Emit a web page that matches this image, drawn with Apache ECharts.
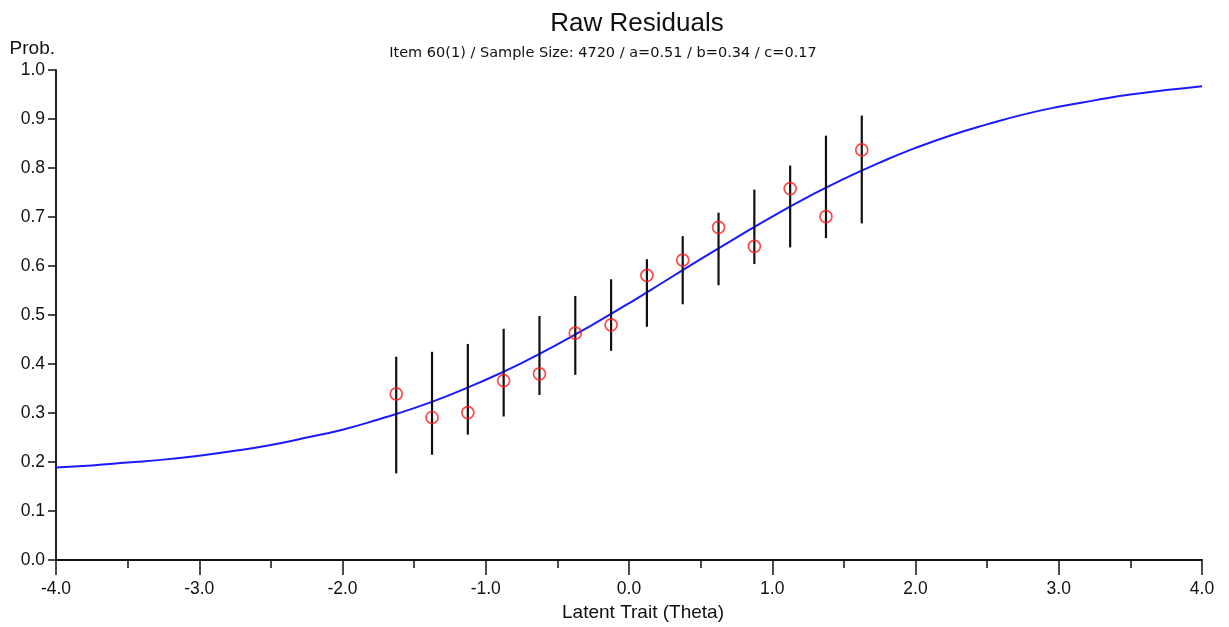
<!DOCTYPE html>
<html>
<head>
<meta charset="utf-8">
<script src="https://cdn.jsdelivr.net/npm/echarts@6/dist/echarts.min.js"></script>
<style>
html,body{margin:0;padding:0;background:#fff;}
#chart{width:1229px;height:627px;}
</style>
</head>
<body>
<div id="chart"></div>
<script>
// Item characteristic curve (theta, probability)
var curveTheta = [-4.0,-3.75,-3.5,-3.25,-3.0,-2.75,-2.5,-2.25,-2.0,-1.75,-1.5,-1.25,-1.0,-0.75,-0.5,-0.25,0.0,0.25,0.5,0.75,1.0,1.25,1.5,1.75,2.0,2.25,2.5,2.75,3.0,3.25,3.5,3.75,4.0];
var curveProb  = [0.189,0.193,0.199,0.205,0.213,0.223,0.235,0.250,0.266,0.287,0.310,0.337,0.368,0.402,0.440,0.481,0.524,0.569,0.614,0.658,0.701,0.741,0.778,0.811,0.841,0.867,0.889,0.909,0.925,0.938,0.950,0.959,0.967];

// Observed proportions with error bars
var groupTheta = [-1.625,-1.375,-1.125,-0.875,-0.625,-0.375,-0.125,0.125,0.375,0.625,0.875,1.125,1.375,1.625];
var observed   = [0.339,0.291,0.301,0.366,0.380,0.463,0.480,0.581,0.612,0.679,0.640,0.758,0.701,0.837];
var errLow     = [0.177,0.215,0.256,0.293,0.337,0.378,0.427,0.476,0.522,0.561,0.604,0.638,0.657,0.687];
var errHigh    = [0.415,0.425,0.441,0.472,0.498,0.539,0.573,0.614,0.661,0.709,0.756,0.805,0.866,0.907];

var titleText = 'Raw Residuals';
var subtitleText = 'Item 60(1) / Sample Size: 4720 / a=0.51 / b=0.34 / c=0.17';
var xName = 'Latent Trait (Theta)';
var yName = 'Prob.';

var FONT = 'Arial, "Liberation Sans", sans-serif';

var curveData = curveTheta.map(function(t,i){return [t, curveProb[i]];});
var obsData = groupTheta.map(function(t,i){return [t, observed[i]];});
var errData = groupTheta.map(function(t,i){return [t, errLow[i], errHigh[i]];});

var chart = echarts.init(document.getElementById('chart'), null, {renderer:'canvas'});
chart.setOption({
  backgroundColor:'#ffffff',
  animation:false,
  title:[
    {text:titleText, left:632, top:6, textAlign:'center',
     textStyle:{fontFamily:FONT, fontSize:26, fontWeight:'normal', color:'#111'}},
    {text:subtitleText, left:598, top:41, textAlign:'center',
     textStyle:{fontFamily:'"DejaVu Sans", sans-serif', fontSize:14.5, fontWeight:'normal', color:'#111'}}
  ],
  grid:{left:56, right:27, top:70, bottom:64, containLabel:false},
  xAxis:{
    type:'value', min:-4, max:4, interval:1,
    name:xName, nameLocation:'middle', nameGap:37,
    nameTextStyle:{fontFamily:FONT, fontSize:19, color:'#111', padding:[0,0,0,28]},
    axisLine:{show:true, onZero:false, lineStyle:{color:'#111', width:2.2}},
    axisTick:{show:true, length:15, lineStyle:{color:'#111', width:1.5}},
    minorTick:{show:true, splitNumber:2, length:8, lineStyle:{color:'#111', width:1.5}},
    axisLabel:{fontFamily:FONT, fontSize:17.5, color:'#111', margin:20,
      formatter:function(v){return v.toFixed(1);}},
    splitLine:{show:false}
  },
  yAxis:{
    type:'value', min:0, max:1, interval:0.1,
    name:yName, nameLocation:'end', nameGap:12,
    nameTextStyle:{fontFamily:FONT, fontSize:19, color:'#111', align:'right', padding:[0,1,0,0]},
    axisLine:{show:true, onZero:false, lineStyle:{color:'#222', width:2}},
    axisTick:{show:true, length:8, lineStyle:{color:'#111', width:1.5}},
    axisLabel:{fontFamily:FONT, fontSize:17.5, color:'#111', margin:11,
      formatter:function(v){return v.toFixed(1);}},
    splitLine:{show:false}
  },
  series:[
    {
      type:'line', data:curveData, smooth:true, showSymbol:false,
      lineStyle:{color:'#1a1aff', width:2}, z:2
    },
    {
      type:'custom', data:errData, z:3,
      encode:{x:0, y:[1,2]},
      renderItem:function(params, api){
        var x = api.value(0);
        var p1 = api.coord([x, api.value(1)]);
        var p2 = api.coord([x, api.value(2)]);
        return {type:'line', shape:{x1:p1[0], y1:p1[1], x2:p2[0], y2:p2[1]},
                style:{stroke:'#111', lineWidth:2.2}};
      }
    },
    {
      type:'scatter', data:obsData, symbol:'circle', symbolSize:12, z:4,
      itemStyle:{color:'rgba(255,255,255,0)', borderColor:'#ff1a1a', borderWidth:1.7}
    }
  ]
});
</script>
</body>
</html>
